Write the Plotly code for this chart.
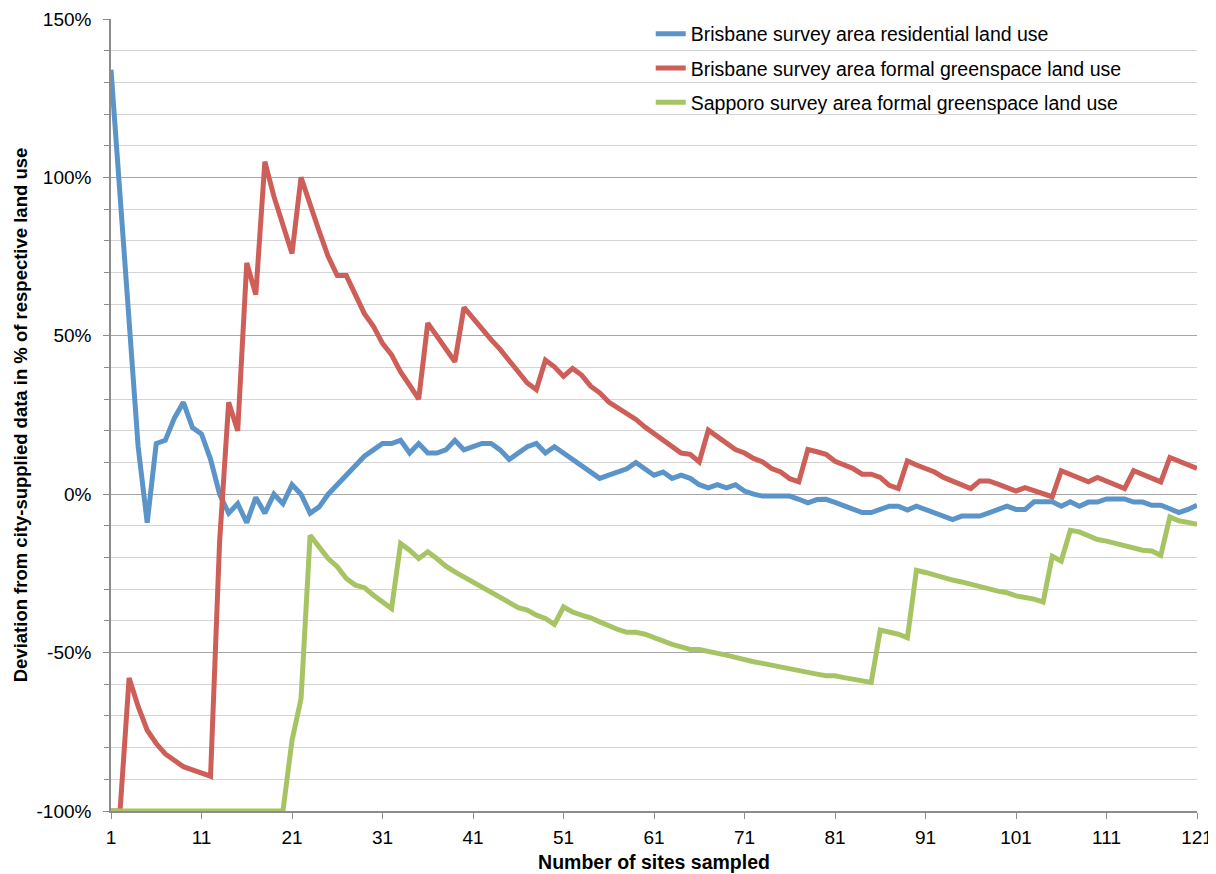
import plotly.graph_objects as go

sites = list(range(1, 122))

residential = [134, 96, 55, 15, -9, 16, 17, 24, 29, 21, 19, 11, 0, -6, -3, -9, -1, -6, 0, -3,
               3, 0, -6, -4, 0, 3, 6, 9, 12, 14, 16, 16, 17, 13, 16, 13, 13, 14, 17, 14,
               15, 16, 16, 14, 11, 13, 15, 16, 13, 15, 13, 11, 9, 7, 5, 6, 7, 8, 10, 8,
               6, 7, 5, 6, 5, 3, 2, 3, 2, 3, 1, 0, -0.6, -0.6, -0.6, -0.6, -1.6, -2.7, -1.7, -1.6,
               -2.6, -3.8, -4.8, -5.8, -5.8, -4.8, -3.8, -3.8, -5, -3.8, -4.8, -5.9, -6.9, -8, -6.9, -6.9, -6.9, -5.9, -4.8, -3.8,
               -4.8, -4.8, -2.4, -2.4, -2.4, -3.8, -2.4, -3.8, -2.5, -2.5, -1.5, -1.5, -1.5, -2.5, -2.5, -3.5, -3.5, -4.6, -5.8, -4.8,
               -3.5]

bris_green = [-100, -100, -58, -67, -74.5, -78.7, -82, -84, -86, -87, -88, -89, -15, 29, 20, 73, 63, 105, 94, 85,
              76, 100, 91, 83, 75, 69, 69, 63, 57, 53, 47.6, 44, 38.6, 34.4, 30, 54, 49.7, 46, 41.8, 59,
              55.5, 52.6, 48.8, 45.7, 42.3, 38.3, 35.1, 33, 42.3, 40.2, 37.2, 39.7, 37.6, 34.1, 32, 29.1, 27.4, 25.7, 23.6, 21.2,
              19.2, 17, 15.2, 13, 12.6, 10.2, 20.2, 18.3, 16.2, 14.1, 13, 11.3, 10.2, 8.1, 7, 4.9, 3.9, 14.1, 13.4, 12.6,
              10.4, 9.4, 8.1, 6.3, 6.3, 5.3, 2.8, 1.8, 10.5, 9.2, 8.1, 7, 5.3, 4.2, 2.8, 1.8, 4.2, 4.2, 3.2, 2.1,
              1, 2.1, 1, 0, -0.8, 7.4, 6.3, 5.3, 3.9, 5.3, 4.2, 3.2, 1.8, 7.4, 6.3, 5.3, 3.9, 11.6, 10.5, 9.5,
              8.1]

sapporo_green = [-100] * 20 + [
    -77.7, -64.5, -13, -16.6, -20.3, -22.9, -26.6, -28.7, -29.5, -31.9,
    -34, -36.1, -15.6, -17.7, -20.3, -18.2, -20.3, -22.7, -24.5, -26.1,
    -28, -29.5, -31, -32.4, -34, -35.8, -36.6, -38.2, -39.2, -41.1,
    -35.6, -37.2, -38.2, -39, -40.3, -41.7, -42.7, -43.6, -43.6, -44.2,
    -45.4, -46.6, -47.4, -48.2, -49, -49, -49.5, -50, -50.8, -51.5,
    -52.4, -52.9, -53.4, -54, -54.8, -55.3, -55.9, -56.3, -56.8, -57.3,
    -57.3, -57.9, -58.4, -58.9, -59.4, -42.9, -43.5, -44.2, -45.3, -24,
    -24.7, -25.6, -26.6, -27.1, -27.7, -28.5, -29.3, -30.1, -30.6, -31.1,
    -32.1, -32.6, -33.1, -34, -19.6, -21.1, -11.4, -11.9, -13.3, -14.3,
    -14.8, -15.6, -16.3, -17, -17.7, -17.9, -19.3, -7.2, -8.4, -8.9,
    -9.5]

series_names = ["Brisbane survey area residential land use",
                "Brisbane survey area formal greenspace land use",
                "Sapporo survey area formal greenspace land use"]
series_values = [residential, bris_green, sapporo_green]
series_colors = ["#5b94c9", "#cd5f58", "#a7c465"]

x_tick_vals = list(range(1, 122, 10))
y_tick_vals = [-100, -50, 0, 50, 100, 150]
y_tick_text = ["-100%", "-50%", "0%", "50%", "100%", "150%"]

fig = go.Figure()
for i, (name, vals, col) in enumerate(zip(series_names, series_values, series_colors)):
    fig.add_trace(go.Scatter(x=sites, y=vals, mode="lines", name=name,
                             legendgroup=f"g{i}",
                             line=dict(color=col, width=5)))

# the page body adds an 8px offset, so the figure is sized to compensate
font_family = "Liberation Sans, Arial, sans-serif"
fig.update_layout(
    width=1208, height=866,
    margin=dict(l=103, r=19, t=11, b=63, autoexpand=False),
    paper_bgcolor="white", plot_bgcolor="white",
    font=dict(family=font_family, size=16, color="black"),
    showlegend=True,
    legend=dict(x=0.497, y=0.9925, xref="paper", yref="container",
                xanchor="left", yanchor="top",
                bgcolor="rgba(0,0,0,0)", font=dict(size=19.5, family=font_family),
                traceorder="grouped", tracegroupgap=6, itemwidth=30),
    xaxis=dict(range=[1, 121], tickvals=x_tick_vals, ticks="outside", ticklen=6,
               tickcolor="#8c8c8c", showline=True, linecolor="#8c8c8c", linewidth=1.5,
               showgrid=False, zeroline=False, tickfont=dict(size=19),
               ticklabelstandoff=2, automargin=False,
               title=dict(text="<b>Number of sites sampled</b>", font=dict(size=19.5), standoff=9)),
    yaxis=dict(range=[-100, 150], tickvals=y_tick_vals, ticktext=y_tick_text,
               ticks="outside", ticklen=6, tickcolor="#8c8c8c",
               showline=True, linecolor="#8c8c8c", linewidth=1.5,
               showgrid=True, gridcolor="#a6a6a6", gridwidth=1.2,
               zeroline=False, tickfont=dict(size=19), ticklabelstandoff=8,
               automargin=False,
               minor=dict(dtick=10, tick0=0, showgrid=True, gridcolor="#d4d4d4", gridwidth=1,
                          ticks="outside", ticklen=5, tickcolor="#8c8c8c"),
               title=dict(text="<b>Deviation from city-supplied data in % of respective land use</b>",
                          font=dict(size=18.5), standoff=4)),
)

fig.write_html("out.html")
